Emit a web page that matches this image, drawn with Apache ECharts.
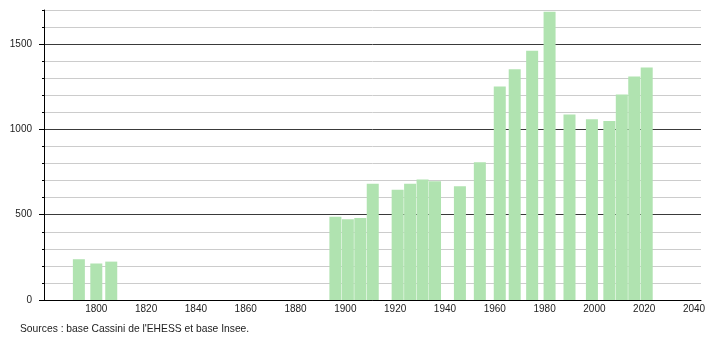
<!DOCTYPE html>
<html>
<head>
<meta charset="utf-8">
<script src="https://cdn.jsdelivr.net/npm/echarts@6/dist/echarts.min.js"></script>
<style>
html,body{margin:0;padding:0;background:#fff;}
#c{width:710px;height:340px;}
</style>
</head>
<body>
<div id="c"></div>
<script>
const years = [1793, 1800, 1806, 1896, 1901, 1906, 1911, 1921, 1926, 1931, 1936, 1946, 1954, 1962, 1968, 1975, 1982, 1990, 1999, 2006, 2011, 2016, 2021];
const population = [239, 214, 225, 488, 474, 480, 682, 647, 682, 706, 696, 667, 808, 1251, 1353, 1461, 1690, 1088, 1059, 1049, 1204, 1310, 1363];
const xTickLabels = [1800, 1820, 1840, 1860, 1880, 1900, 1920, 1940, 1960, 1980, 2000, 2020, 2040];
const yTickLabels = [0, 500, 1000, 1500];
const sourceText = "Sources : base Cassini de l'EHESS et base Insee.";

const font = 'Liberation Sans, Arial, sans-serif';
const plain = v => String(Math.round(v));
const chart = echarts.init(document.getElementById('c'), null, {renderer: 'canvas'});
chart.setOption({
  animation: false,
  backgroundColor: '#fff',
  grid: {left: 44, right: 9, top: 10, bottom: 40, containLabel: false},
  xAxis: {
    type: 'value', min: 1779, max: 2042.8,
    axisLine: {show: true, lineStyle: {color: '#000', width: 1}},
    axisTick: {show: false},
    splitLine: {show: false},
    axisLabel: {customValues: xTickLabels, formatter: plain, margin: 4, color: '#222', fontSize: 10, fontFamily: font}
  },
  yAxis: [{
    type: 'value', min: 0, max: 1700, interval: 100,
    axisLine: {show: true, lineStyle: {color: '#000', width: 1}},
    axisTick: {show: true, length: 2, lineStyle: {color: '#000'}},
    axisLabel: {show: false},
    splitLine: {show: true, lineStyle: {color: ['#3a3a3a', '#cccccc', '#cccccc', '#cccccc', '#cccccc'], width: 1}}
  }, {
    type: 'value', min: 0, max: 1700, position: 'left',
    axisLine: {show: false},
    axisTick: {show: true, length: 5, customValues: yTickLabels, lineStyle: {color: '#000'}},
    axisLabel: {customValues: yTickLabels, formatter: plain, margin: 12, color: '#222', fontSize: 10, fontFamily: font},
    splitLine: {show: false}
  }],
  series: [{
    type: 'bar',
    barWidth: 12,
    itemStyle: {color: '#b0e3b0'},
    data: years.map((y, i) => [y, population[i]])
  }],
  graphic: [{
    type: 'text', left: 20, top: 324,
    style: {text: sourceText, fill: '#222', fontSize: 10.3, fontFamily: font}
  }]
});
</script>
</body>
</html>
